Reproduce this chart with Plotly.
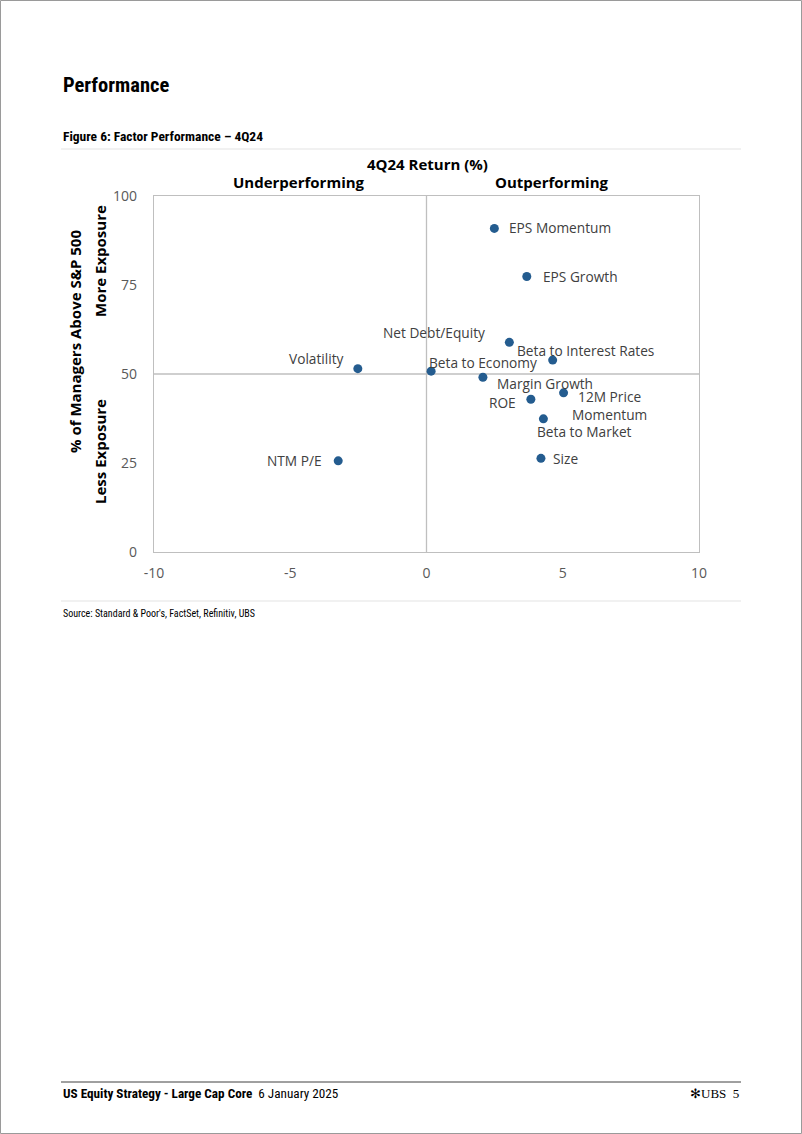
import plotly.graph_objects as go

# ---- data ----
factors = ["EPS Momentum", "EPS Growth", "Net Debt/Equity", "Beta to Interest Rates",
           "Volatility", "Beta to Economy", "Margin Growth", "12M Price<br>Momentum",
           "ROE", "Beta to Market", "Size", "NTM P/E"]
return_4q24 = [2.49, 3.68, 3.04, 4.63, -2.52, 0.17, 2.07, 5.03, 3.83, 4.29, 4.20, -3.24]
pct_managers_above = [90.9, 77.4, 58.9, 53.9, 51.5, 50.8, 49.1, 44.7, 42.9, 37.4, 26.3, 25.6]
x_ticks = [-10, -5, 0, 5, 10]
y_ticks = [0, 25, 50, 75, 100]

# ---- label placement (style only) ----
label_style = {
    "EPS Momentum": dict(xshift=13, yshift=1, xanchor="left"),
    "EPS Growth": dict(xshift=14, yshift=0, xanchor="left"),
    "Net Debt/Equity": dict(xshift=-22, yshift=10, xanchor="right"),
    "Beta to Interest Rates": dict(xshift=-38, yshift=10, xanchor="left"),
    "Volatility": dict(xshift=-12, yshift=10, xanchor="right"),
    "Beta to Economy": dict(xshift=-4, yshift=9, xanchor="left"),
    "Margin Growth": dict(xshift=12, yshift=-6, xanchor="left"),
    "12M Price<br>Momentum": dict(xshift=46, yshift=-13, xanchor="center"),
    "ROE": dict(xshift=-13, yshift=-3, xanchor="right"),
    "Beta to Market": dict(xshift=41, yshift=-13, xanchor="center"),
    "Size": dict(xshift=10, yshift=0, xanchor="left"),
    "NTM P/E": dict(xshift=-14, yshift=0, xanchor="right"),
}

LABEL_FONT = "Open Sans, Noto Sans, sans-serif"
HEAD_FONT = "Liberation Sans Narrow, Roboto Condensed, Open Sans, sans-serif"
GRID = "#BFBFBF"
MARKER = "#245C8F"

# plot area in pixels
L, R, T, B = 154, 699, 196, 552
W, H = 802, 1134
def px(xp):
    return (xp - L) / (R - L)
def py(yp):
    return (B - yp) / (B - T)

fig = go.Figure()
fig.add_trace(go.Scatter(
    x=return_4q24, y=pct_managers_above, mode="markers",
    marker=dict(color=MARKER, size=9, line=dict(width=0)),
    hovertext=factors, hoverinfo="text", showlegend=False,
))

annotations = []
for name, xv, yv in zip(factors, return_4q24, pct_managers_above):
    s = label_style[name]
    annotations.append(dict(
        x=xv, y=yv, xref="x", yref="y", text=name, showarrow=False,
        xshift=s["xshift"], yshift=s["yshift"], xanchor=s["xanchor"], yanchor="middle",
        align="center", font=dict(family=LABEL_FONT, size=13.7, color="#404040"),
    ))

# axis titles
annotations += [
    dict(x=px(427), y=py(164), xref="paper", yref="paper", text="<b>4Q24 Return (%)</b>",
         showarrow=False, xanchor="center", yanchor="middle",
         font=dict(family=LABEL_FONT, size=15, color="#000000")),
    dict(x=px(299), y=py(182), xref="paper", yref="paper", text="<b>Underperforming</b>",
         showarrow=False, xanchor="center", yanchor="middle",
         font=dict(family=LABEL_FONT, size=15, color="#000000")),
    dict(x=px(552), y=py(182), xref="paper", yref="paper", text="<b>Outperforming</b>",
         showarrow=False, xanchor="center", yanchor="middle",
         font=dict(family=LABEL_FONT, size=15, color="#000000")),
    dict(x=px(75), y=py(342), xref="paper", yref="paper", text="<b>% of Managers Above S&P 500</b>",
         showarrow=False, textangle=-90, xanchor="center", yanchor="middle",
         font=dict(family=LABEL_FONT, size=15, color="#000000")),
    dict(x=px(100), y=py(261), xref="paper", yref="paper", text="<b>More Exposure</b>",
         showarrow=False, textangle=-90, xanchor="center", yanchor="middle",
         font=dict(family=LABEL_FONT, size=15, color="#000000")),
    dict(x=px(100), y=py(452), xref="paper", yref="paper", text="<b>Less Exposure</b>",
         showarrow=False, textangle=-90, xanchor="center", yanchor="middle",
         font=dict(family=LABEL_FONT, size=15, color="#000000")),
]

# page text
annotations += [
    dict(x=px(61), y=py(85), xref="paper", yref="paper", text="<b>Performance</b>",
         showarrow=False, xanchor="left", yanchor="middle",
         font=dict(family=HEAD_FONT, size=20.5, color="#000000")),
    dict(x=px(61), y=py(136), xref="paper", yref="paper", text="<b>Figure 6: Factor Performance – 4Q24</b>",
         showarrow=False, xanchor="left", yanchor="middle",
         font=dict(family=HEAD_FONT, size=13.5, color="#000000")),
    dict(x=px(61), y=py(613), xref="paper", yref="paper",
         text="Source: Standard & Poor's, FactSet, Refinitiv, UBS",
         showarrow=False, xanchor="left", yanchor="middle",
         font=dict(family=HEAD_FONT, size=10, color="#000000")),
    dict(x=px(61), y=py(1093), xref="paper", yref="paper",
         text="<b>US Equity Strategy - Large Cap Core</b>  6 January 2025",
         showarrow=False, xanchor="left", yanchor="middle",
         font=dict(family=HEAD_FONT, size=13.2, color="#000000")),
    dict(x=px(741), y=py(1093), xref="paper", yref="paper",
         text="✻UBS  5",
         showarrow=False, xanchor="right", yanchor="middle",
         font=dict(family="Liberation Serif, DejaVu Serif, serif", size=13, color="#000000")),
]

shapes = [
    # quadrant lines
    dict(type="line", xref="x", yref="y", x0=0, x1=0, y0=0, y1=100, line=dict(color=GRID, width=1.3), layer="below"),
    dict(type="line", xref="x", yref="y", x0=-10, x1=10, y0=50, y1=50, line=dict(color=GRID, width=1.3), layer="below"),
    # page rules
    dict(type="line", xref="paper", yref="paper", x0=px(61), x1=px(741), y0=py(149), y1=py(149),
         line=dict(color="#E3E3E3", width=1)),
    dict(type="line", xref="paper", yref="paper", x0=px(61), x1=px(741), y0=py(601), y1=py(601),
         line=dict(color="#E3E3E3", width=1)),
    dict(type="line", xref="paper", yref="paper", x0=px(61), x1=px(741), y0=py(1082), y1=py(1082),
         line=dict(color="#404040", width=1)),
    # page border
    dict(type="rect", xref="paper", yref="paper", x0=px(0.5), x1=px(801.5), y0=py(0.5), y1=py(1133.5),
         line=dict(color="#9A9A9A", width=1)),
]

fig.update_layout(
    width=W, height=H,
    margin=dict(l=L, r=W - R, t=T, b=H - B, pad=0),
    paper_bgcolor="white", plot_bgcolor="white",
    annotations=annotations, shapes=shapes,
    xaxis=dict(range=[-10, 10], tickvals=x_ticks, ticktext=[str(v) for v in x_ticks],
               showgrid=False, zeroline=False, showline=True, linecolor=GRID, linewidth=1.3,
               mirror=True, ticks="", ticklabelstandoff=8,
               tickfont=dict(family=LABEL_FONT, size=14, color="#595959")),
    yaxis=dict(range=[0, 100], tickvals=y_ticks, ticktext=[str(v) for v in y_ticks],
               showgrid=False, zeroline=False, showline=True, linecolor=GRID, linewidth=1.3,
               mirror=True, ticks="", ticklabelstandoff=13,
               tickfont=dict(family=LABEL_FONT, size=14, color="#595959")),
    font=dict(family=LABEL_FONT),
)

fig.write_html("out.html")
